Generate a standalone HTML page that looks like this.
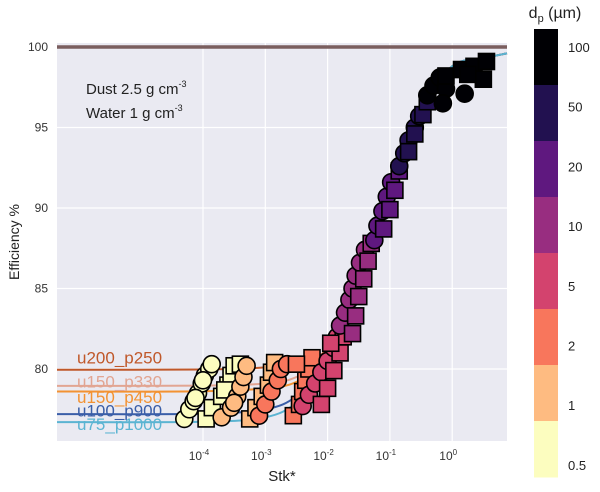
<!DOCTYPE html>
<html><head><meta charset="utf-8"><style>
body{margin:0;background:#fff;width:600px;height:487px;overflow:hidden}
svg{font-family:"Liberation Sans",sans-serif}
</style></head><body>
<svg id="chart" width="600" height="487" viewBox="0 0 600 487" xmlns="http://www.w3.org/2000/svg">
<rect x="57" y="43" width="450" height="398" fill="#eaeaf2"/>
<g id="grid"></g>
<g id="curves"></g>
<g id="labels"></g>
<g id="points"></g>
<g id="axes"></g>
<text x="86" y="94" font-size="15" fill="#222">Dust 2.5 g cm<tspan font-size="9" dy="-7">-3</tspan></text>
<text x="86" y="118" font-size="15" fill="#222">Water 1 g cm<tspan font-size="9" dy="-7">-3</tspan></text>
<text transform="translate(19,242) rotate(-90)" text-anchor="middle" font-size="14" fill="#222">Efficiency %</text>
<text x="282" y="481" text-anchor="middle" font-size="15" fill="#222">Stk*</text>
<g id="colorbar"></g>
<text x="555" y="18" text-anchor="middle" font-size="16" fill="#222">d<tspan font-size="11" dy="4">p</tspan><tspan dy="-4"> (µm)</tspan></text>
</svg>
<script>
const yTicks=[80,85,90,95,100];
const xTicks=[-4,-3,-2,-1,0];
const xTickLabels=["10","10","10","10","10"];
const xTickExps=["-4","-3","-2","-1","0"];
const cbLabels=["100","50","20","10","5","2","1","0.5"];
const cbColors=["#000004","#221150","#5f187f","#982d80","#d3436e","#f8765c","#febb81","#fcfdbf"];
const curveNames=["u200_p250","u150_p330","u150_p450","u100_p900","u75_p1000"];
const curveColors=["#c0582a","#e2a592","#f39232","#3a5ea8","#5bb4d2"];
const curveX=[-6.4,-4,-3,-2.5,-2,-1.5,-1,-0.5,0,0.5,0.9];
const curveU200=[79.95,79.97,80.1,80.4,81.3,85.6,91.6,96.3,98.8,99.3,99.6];
const curveU150a=[78.95,78.97,79.1,79.5,80.8,85.4,91.5,96.3,98.8,99.3,99.6];
const curveU150b=[78.6,78.62,78.8,79.2,80.6,85.3,91.5,96.3,98.8,99.3,99.6];
const curveU100=[77.2,77.22,77.5,78.3,80.2,85.2,91.4,96.2,98.8,99.3,99.6];
const curveU75=[76.7,76.72,77.0,77.9,79.9,85.1,91.3,96.2,98.8,99.3,99.6];
const curves=[curveU200,curveU150a,curveU150b,curveU100,curveU75];
const labelY=[80.35,78.85,77.9,77.05,76.2];
const ptStk=[-4.3,-4.22,-4.15,-4.08,-4.02,-3.97,-3.9,-3.86,-4.12,-4.0,
-3.95,-3.85,-3.7,-3.6,-3.55,-3.5,-3.4,-3.65,
-3.7,-3.55,-3.45,-3.4,-3.35,-3.3,-3.5,
-3.25,-3.15,-3.05,-2.95,-2.9,-2.85,
-3.1,-3.0,-2.9,-2.8,-2.75,-2.65,
-2.55,-2.45,-2.4,-2.35,-2.3,-2.25,-2.5,
-2.4,-2.3,-2.2,-2.1,-2.0,-1.9,-1.85,
-2.1,-2.0,-1.9,-1.8,-1.75,-1.95,
-1.8,-1.72,-1.65,-1.6,-1.55,-1.48,-1.4,
-1.6,-1.55,-1.5,-1.42,-1.35,-1.3,
-1.25,-1.2,-1.12,-1.05,-0.98,-1.1,-1.0,-0.92,-0.85,
-0.85,-0.77,-0.7,-0.6,-0.53,-0.7,-0.6,-0.47,-0.4,
-0.4,-0.3,-0.2,-0.1,-0.15,0.2,-0.1,0.15,0.35,0.55,0.5,0.25];
const ptEff=[76.9,77.5,78.0,78.5,79.1,79.6,80.0,80.3,78.2,79.3,
76.9,77.6,78.3,79.0,79.6,80.2,80.3,78.7,
77.0,77.6,78.3,78.9,79.5,80.2,77.9,
76.9,77.6,78.3,79.0,79.8,80.4,
77.1,77.8,78.6,79.3,80.0,80.3,
77.1,77.8,78.6,79.3,80.0,80.7,80.3,
77.7,78.4,79.1,79.8,80.5,81.3,82.0,
77.8,78.8,79.9,81.0,82.0,81.6,
82.7,83.5,84.3,85.0,85.8,86.6,87.4,
82.2,83.3,84.5,85.6,86.7,87.8,
88.0,88.9,89.8,90.7,91.6,88.7,89.9,91.1,92.3,
92.6,93.4,94.2,95.0,95.7,93.5,94.6,95.8,96.6,
97.0,97.6,98.1,97.4,96.5,97.1,98.2,98.6,98.8,99.1,98.0,98.3];
const ptCat=[0,0,0,0,0,0,0,0,0,0, 0,0,0,0,0,0,0,0, 1,1,1,1,1,1,1, 1,1,1,1,1,1,
2,2,2,2,2,2, 2,2,2,2,2,2,2, 3,3,3,3,3,3,3, 3,3,3,3,3,3,
4,4,4,4,4,4,4, 4,4,4,4,4,4, 5,5,5,5,5,5,5,5,5, 6,6,6,6,6,6,6,6,6,
7,7,7,7,7,7,7,7,7,7,7,7];
const ptShape=["c","c","c","c","c","c","c","c","c","c","s","s","s","s","s","s","s","s",
"c","c","c","c","c","c","c","s","s","s","s","s","s",
"c","c","c","c","c","c","s","s","s","s","s","s","s",
"c","c","c","c","c","c","c","s","s","s","s","s","s",
"c","c","c","c","c","c","c","s","s","s","s","s","s",
"c","c","c","c","c","s","s","s","s",
"c","c","c","c","c","s","s","s","s",
"c","c","c","c","c","c","s","s","s","s","s","s"];
const catColor=[7,6,5,4,3,2,1,0].map(i=>cbColors[i]);
const NS="http://www.w3.org/2000/svg";
const X0=57,X1=507,Y0=43,Y1=441;
function xs(l){return 203+(l+4)*62.3;}
function ys(e){return 369-(e-80)*16.1;}
function mk(t,a,p){const e=document.createElementNS(NS,t);for(const k in a)e.setAttribute(k,a[k]);p.appendChild(e);return e;}
const grid=document.getElementById('grid');
yTicks.forEach(v=>{const l=mk('line',{x1:X0,x2:X1,y1:ys(v),y2:ys(v),stroke:'#fff','stroke-width':1.2},grid);

});
xTicks.forEach(v=>{const l=mk('line',{x1:xs(v),x2:xs(v),y1:Y0,y2:Y1,stroke:'#fff','stroke-width':1.2},grid);

});
const cg=document.getElementById('curves');
const hl=mk('line',{x1:X0,x2:X1,y1:ys(100),y2:ys(100),stroke:'#7a5e5e','stroke-width':3.5},cg);


curves.forEach((c,i)=>{const pts=c.map((v,j)=>[Math.max(X0,Math.min(X1,xs(curveX[j]))),ys(v)]);
let d='M'+pts[0][0].toFixed(1)+','+pts[0][1].toFixed(1);
for(let j=1;j<pts.length;j++){const p0=pts[Math.max(0,j-2)],p1=pts[j-1],p2=pts[j],p3=pts[Math.min(pts.length-1,j+1)];
const c1x=p1[0]+(p2[0]-p0[0])/6,c1y=p1[1]+(p2[1]-p0[1])/6,c2x=p2[0]-(p3[0]-p1[0])/6,c2y=p2[1]-(p3[1]-p1[1])/6;
d+='C'+c1x.toFixed(1)+','+c1y.toFixed(1)+' '+c2x.toFixed(1)+','+c2y.toFixed(1)+' '+p2[0].toFixed(1)+','+p2[1].toFixed(1);}
const p=mk('path',{d:d,fill:'none',stroke:curveColors[i],'stroke-width':2},cg);

});
const lg=document.getElementById('labels');
curveNames.forEach((n,i)=>{const t=mk('text',{x:77,y:ys(labelY[i]),'font-size':17,fill:curveColors[i]},lg);t.textContent=n;

});
const pg=document.getElementById('points');
ptStk.forEach((s,i)=>{const x=xs(s),y=ys(ptEff[i]),col=catColor[ptCat[i]];let e;
if(ptShape[i]==='c')e=mk('circle',{cx:x,cy:y,r:8.5,fill:col,stroke:'#000','stroke-width':1.6},pg);
else e=mk('rect',{x:x-8,y:y-8,width:16,height:16,fill:col,stroke:'#000','stroke-width':1.6},pg);

});
const ax=document.getElementById('axes');
yTicks.forEach(v=>{const t=mk('text',{x:48,y:ys(v)+4,'text-anchor':'end','font-size':12,fill:'#333'},ax);t.textContent=v;

});
xTicks.forEach((v,i)=>{const t=mk('text',{x:xs(v)-4,y:460,'text-anchor':'middle','font-size':12,fill:'#333'},ax);t.textContent=xTickLabels[i];
const sp=mk('tspan',{'font-size':8,dy:-5},t);sp.textContent=xTickExps[i];

});
const cb=document.getElementById('colorbar');
const cbTop=29,cbH=56;
cbColors.forEach((c,i)=>{const r=mk('rect',{x:534,y:cbTop+i*cbH,width:24,height:cbH+0.5,fill:c},cb);


const t=mk('text',{x:568,y:52+i*59.7,'font-size':13,fill:'#222'},cb);t.textContent=cbLabels[i];

});
</script>
</body></html>
